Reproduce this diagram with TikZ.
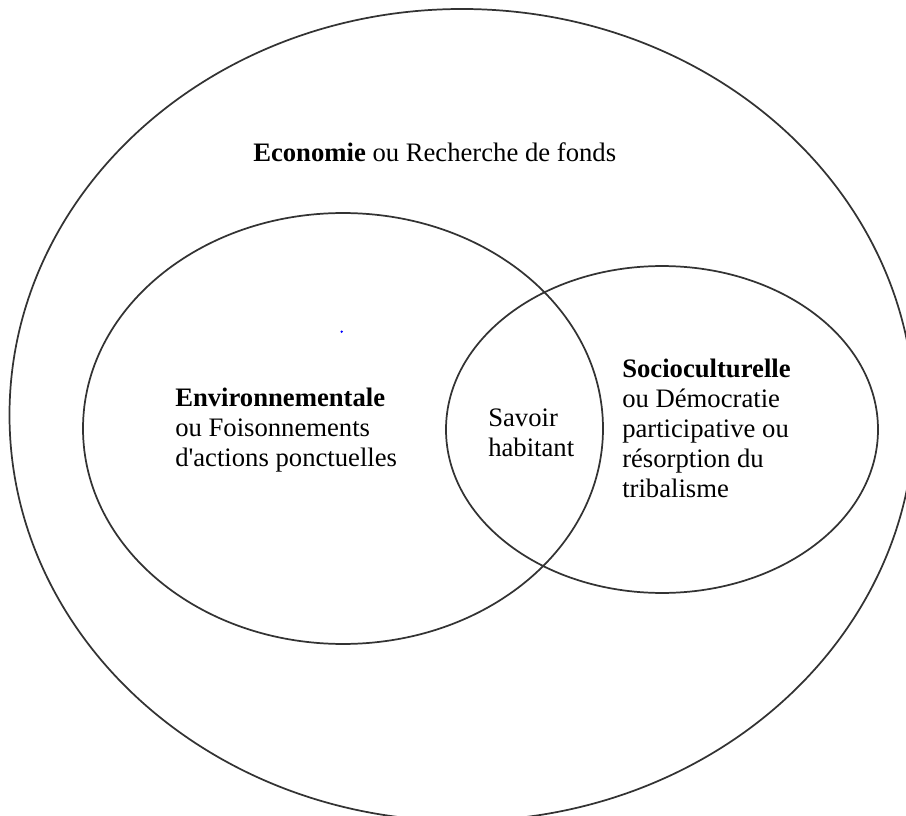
\documentclass[tikz,border=0pt]{standalone}
\usepackage{fontspec}
\setmainfont{Liberation Serif}
\begin{document}
\begin{tikzpicture}[x=0.75pt,y=-0.75pt]
\tikzset{
  ring/.style={draw=black!80,line width=1.3pt},
  lbl/.style={anchor=base west,inner sep=0pt,align=left,font=\fontsize{20}{22.5}\selectfont}
}
\useasboundingbox (0,0) rectangle (906,816);
\draw[ring] (462,415) ellipse [x radius=339.375pt, y radius=304.5pt];
\draw[ring] (343,428.5) ellipse [x radius=195pt, y radius=161.6pt];
\draw[ring] (662,429.5) ellipse [x radius=162pt, y radius=122.6pt];
\fill[blue] (341.7,331.7) circle [radius=1pt];
\node[lbl] (eco) at (253,162) {\textbf{Economie} ou Recherche de fonds};
\node[lbl] (env) at (175,466) {\textbf{Environnementale}\\ou Foisonnements\\d\textquotesingle actions ponctuelles};
\node[lbl] (sav) at (488,456) {Savoir\\habitant};
\node[lbl] (soc) at (622,497) {\textbf{Socioculturelle}\\ou Démocratie\\participative ou\\résorption du\\tribalisme};
\end{tikzpicture}
\end{document}
